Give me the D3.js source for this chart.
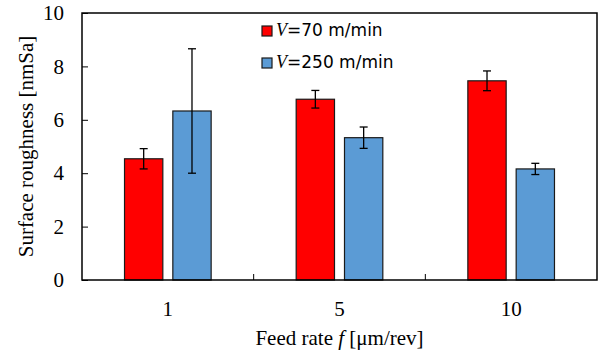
<!DOCTYPE html>
<html>
<head>
<meta charset="utf-8">
<script src="https://cdn.jsdelivr.net/npm/d3@7"></script>
<style>
  body { margin: 0; background: #fff; }
  svg { display: block; }
</style>
</head>
<body>
<div id="chart"></div>
<script>
const feedRates = ['1', '5', '10']
const seriesNames = ['V=70 m/min', 'V=250 m/min']
const speedLabels = ['70', '250']
const roughness70 = [4.54, 6.77, 7.46]
const roughness250 = [6.33, 5.33, 4.16]
const error70 = [0.38, 0.33, 0.37]
const error250 = [2.33, 0.40, 0.21]
const yTicks = [0, 2, 4, 6, 8, 10]

const WIDTH = 599
const HEIGHT = 353
const margin = {top: 13, right: 2, bottom: 73, left: 82}
const colors = ['#ff0000', '#5b9bd5']
const SERIF = '"Liberation Serif", "Times New Roman", serif'

const svg = d3.select('#chart')
  .append('svg')
  .attr('width', WIDTH)
  .attr('height', HEIGHT)

const plotW = WIDTH - margin.left - margin.right
const plotH = HEIGHT - margin.top - margin.bottom

const g = svg.append('g')
  .attr('transform', 'translate(' + margin.left + ',' + margin.top + ')')

const x0 = d3.scaleBand()
  .domain(feedRates)
  .range([0, plotW])
  .padding(0)

const x1 = d3.scaleBand()
  .domain(seriesNames)
  .range([0, x0.bandwidth()])
  .paddingInner(0.207)
  .paddingOuter(0.88)

const y = d3.scaleLinear()
  .domain([0, 10])
  .range([plotH, 0])

// build rows from the arrays
const values = [roughness70, roughness250]
const errors = [error70, error250]
const rows = []
feedRates.forEach((f, i) => {
  seriesNames.forEach((s, j) => {
    rows.push({feed: f, series: s, idx: j, value: values[j][i], err: errors[j][i]})
  })
})

// bars
g.selectAll('rect.bar')
  .data(rows)
  .enter()
  .append('rect')
  .attr('class', 'bar')
  .attr('x', (d) => x0(d.feed) + x1(d.series))
  .attr('y', (d) => y(d.value))
  .attr('width', x1.bandwidth())
  .attr('height', (d) => plotH - y(d.value))
  .attr('fill', (d) => colors[d.idx])
  .attr('stroke', '#1a1a1a')
  .attr('stroke-width', 1.2)

// error bars
const capW = 4
const eb = g.selectAll('g.err')
  .data(rows)
  .enter()
  .append('g')
  .attr('class', 'err')
  .attr('stroke', '#000')
  .attr('stroke-width', 1.3)

const cx = (d) => x0(d.feed) + x1(d.series) + x1.bandwidth() / 2
eb.append('line')
  .attr('x1', cx).attr('x2', cx)
  .attr('y1', (d) => y(d.value + d.err))
  .attr('y2', (d) => y(d.value - d.err))
eb.append('line')
  .attr('x1', (d) => cx(d) - capW).attr('x2', (d) => cx(d) + capW)
  .attr('y1', (d) => y(d.value + d.err))
  .attr('y2', (d) => y(d.value + d.err))
eb.append('line')
  .attr('x1', (d) => cx(d) - capW).attr('x2', (d) => cx(d) + capW)
  .attr('y1', (d) => y(d.value - d.err))
  .attr('y2', (d) => y(d.value - d.err))

// y axis, ticks inward
const yAxis = g.append('g')
  .call(d3.axisLeft(y).tickValues(yTicks).tickSize(-6).tickPadding(18))
yAxis.select('.domain').remove()
yAxis.selectAll('line').attr('stroke', '#000').attr('stroke-width', 1)
yAxis.selectAll('text')
  .attr('font-family', SERIF)
  .attr('font-size', 21)
  .attr('fill', '#000')

// x axis: labels at band centres, tick marks at band boundaries
const xAxis = g.append('g')
  .attr('transform', 'translate(0,' + plotH + ')')
  .call(d3.axisBottom(x0).tickSize(0).tickPadding(21))
xAxis.select('.domain').remove()
xAxis.selectAll('text')
  .attr('font-family', SERIF)
  .attr('font-size', 21)
  .attr('fill', '#000')

g.selectAll('line.xtick')
  .data(feedRates.slice(1))
  .enter()
  .append('line')
  .attr('class', 'xtick')
  .attr('x1', (d) => x0(d)).attr('x2', (d) => x0(d))
  .attr('y1', plotH).attr('y2', plotH - 6)
  .attr('stroke', '#000')
  .attr('stroke-width', 1)

// frame
g.append('rect')
  .attr('x', 0).attr('y', 0)
  .attr('width', plotW).attr('height', plotH)
  .attr('fill', 'none')
  .attr('stroke', '#000')
  .attr('stroke-width', 1.5)

// legend
const legend = g.selectAll('g.legend')
  .data(seriesNames)
  .enter()
  .append('g')
  .attr('class', 'legend')
  .attr('transform', (d, i) => 'translate(' + (262 - margin.left) + ',' + (26 - margin.top + i * 32) + ')')

legend.append('rect')
  .attr('width', 10).attr('height', 10)
  .attr('fill', (d, i) => colors[i])
  .attr('stroke', '#1a1a1a')
  .attr('stroke-width', 1.2)

const legText = legend.append('text')
  .attr('x', 14)
  .attr('y', 10)
  .attr('font-size', 17)
  .attr('fill', '#000')
legText.append('tspan')
  .attr('font-family', SERIF)
  .attr('font-style', 'italic')
  .attr('font-size', 18)
  .text('V')
legText.append('tspan')
  .attr('font-family', '"DejaVu Sans", Verdana, sans-serif')
  .text((d, i) => '=' + speedLabels[i] + ' m/min')

// axis titles
const title = svg.append('text')
  .attr('x', margin.left + plotW / 2)
  .attr('y', 345)
  .attr('text-anchor', 'middle')
  .attr('font-family', SERIF)
  .attr('font-size', 21)
  .attr('fill', '#000')
title.append('tspan').text('Feed rate ')
title.append('tspan').attr('font-style', 'italic').text('f')
title.append('tspan').text(' [\u03bcm/rev]')

svg.append('text')
  .attr('transform', 'translate(33,' + (margin.top + plotH / 2) + ') rotate(-90)')
  .attr('text-anchor', 'middle')
  .attr('font-family', SERIF)
  .attr('font-size', 21)
  .attr('fill', '#000')
  .text('Surface roughness [nmSa]')
</script>
</body>
</html>
